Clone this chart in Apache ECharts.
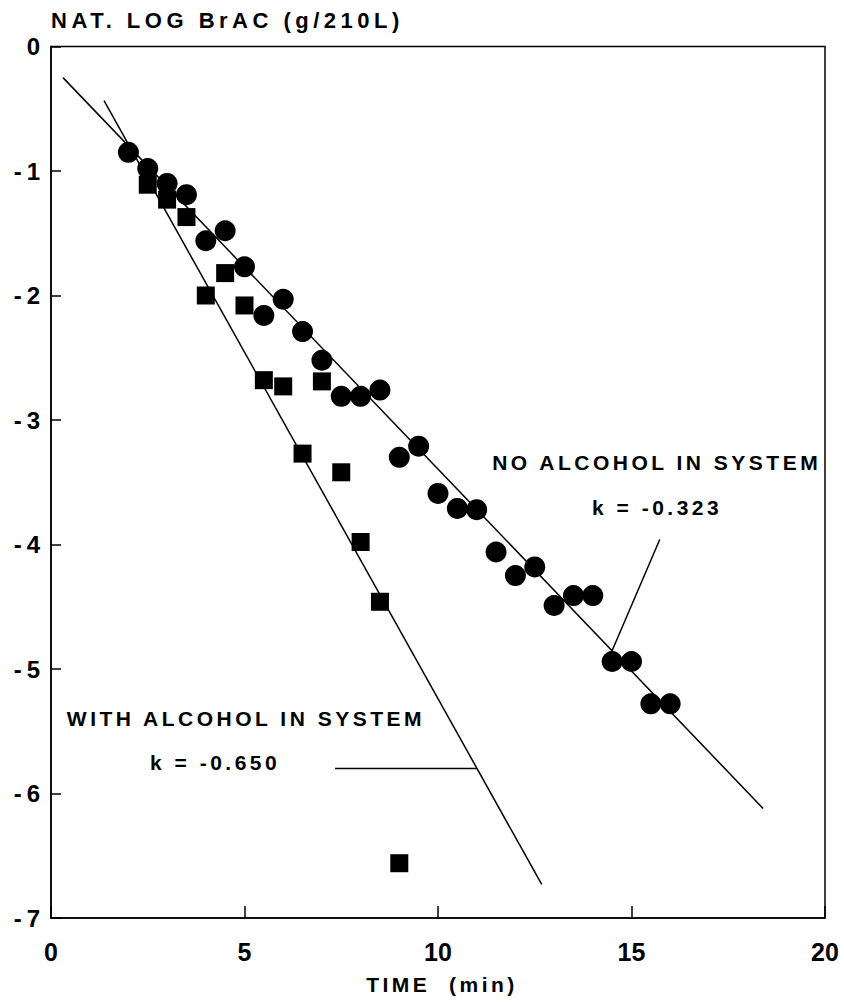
<!DOCTYPE html>
<html>
<head>
<meta charset="utf-8">
<script src="https://cdn.jsdelivr.net/npm/echarts@6/dist/echarts.min.js"></script>
<style>
  html, body { margin: 0; padding: 0; background: #fff; }
  #chart { width: 844px; height: 1005px; }
  /* wide typewriter-style tracking for the captions, keyed on font size */
  #chart text[style*="21px"] { letter-spacing: 3.5px; }
  #chart text[style*="22px"] { letter-spacing: 4.5px; }
  #chart text[style*="24px"] { letter-spacing: 5px; }
</style>
</head>
<body>
<div id="chart"></div>
<script>
// Breath alcohol decay, ln(BrAC) vs time
const noAlcTime = [2, 2.5, 3, 3.5, 4, 4.5, 5, 5.5, 6, 6.5, 7, 7.5, 8, 8.5, 9, 9.5, 10, 10.5, 11, 11.5, 12, 12.5, 13, 13.5, 14, 14.5, 15, 15.5, 16];
const noAlcLn = [-0.85, -0.98, -1.10, -1.19, -1.56, -1.48, -1.77, -2.16, -2.03, -2.29, -2.52, -2.81, -2.81, -2.76, -3.30, -3.21, -3.59, -3.71, -3.72, -4.06, -4.25, -4.18, -4.49, -4.41, -4.41, -4.94, -4.94, -5.28, -5.28];

const withAlcTime = [2.5, 3, 3.5, 4, 4.5, 5, 5.5, 6, 6.5, 7, 7.5, 8, 8.5, 9];
const withAlcLn = [-1.11, -1.23, -1.37, -2.00, -1.82, -2.08, -2.68, -2.73, -3.27, -2.69, -3.42, -3.98, -4.46, -6.56];

// fitted elimination lines (end points)
const noAlcFitTime = [0.31, 18.4];
const noAlcFitLn = [-0.25, -6.12];
const withAlcFitTime = [1.37, 12.68];
const withAlcFitLn = [-0.435, -6.73];

// captions and their leader lines
const noteText = ['NO ALCOHOL IN SYSTEM', 'k = -0.323', 'WITH ALCOHOL IN SYSTEM', 'k = -0.650'];
const noteTime = [11.40, 13.98, 0.41, 2.56];
const noteLn = [-3.345, -3.70, -5.40, -5.755];
const leader323Time = [15.73, 14.49];
const leader323Ln = [-3.96, -4.86];
const leader650Time = [7.34, 11.0];
const leader650Ln = [-5.80, -5.80];

const xTicks = ['0', '5', '10', '15', '20'];
const yTicks = ['-7', '-6', '-5', '-4', '-3', '-2', '-1', '0'];

const pairs = (xs, ys) => xs.map((x, i) => [x, ys[i]]);
const FONT = "'Liberation Sans', Arial, Helvetica, sans-serif";
const INK = '#000';

const lineSeries = (xs, ys) => ({
  type: 'line',
  data: pairs(xs, ys),
  symbol: 'none',
  silent: true,
  lineStyle: { color: INK, width: 1.5 },
  z: 2
});

const chart = echarts.init(document.getElementById('chart'), null, { renderer: 'svg' });

chart.setOption({
  animation: false,
  backgroundColor: '#fff',
  grid: {
    left: 51, right: 19, top: 46.5, bottom: 87,
    show: true, borderColor: INK, borderWidth: 1.5,
    containLabel: false, outerBoundsMode: 'none'
  },
  xAxis: {
    type: 'value', min: 0, max: 20, interval: 5,
    name: 'TIME\u00a0 (min)', nameLocation: 'middle', nameGap: 56,
    nameTextStyle: { fontFamily: FONT, fontSize: 21, fontWeight: 'bold', color: INK, padding: [0, 0, 0, 8] },
    axisLine: { show: true, onZero: false, lineStyle: { color: INK, width: 1.5 } },
    axisTick: { show: true, inside: true, length: 12, lineStyle: { color: INK, width: 1.5 } },
    axisLabel: {
      margin: 21, fontFamily: FONT, fontSize: 25, fontWeight: 'bold', color: INK,
      formatter: (v) => xTicks[Math.round(v / 5)]
    },
    splitLine: { show: false }
  },
  yAxis: {
    type: 'value', min: -7, max: 0, interval: 1,
    name: 'NAT. LOG BrAC (g/210L)', nameLocation: 'end', nameGap: 15,
    nameTextStyle: { fontFamily: FONT, fontSize: 22, fontWeight: 'bold', color: INK, align: 'left' },
    axisLine: { show: true, onZero: false, lineStyle: { color: INK, width: 1.5 } },
    axisTick: { show: true, inside: true, length: 10, lineStyle: { color: INK, width: 1.5 } },
    axisLabel: {
      margin: 6, fontFamily: FONT, fontSize: 24, fontWeight: 'bold', color: INK,
      formatter: (v) => yTicks[Math.round(v + 7)]
    },
    splitLine: { show: false }
  },
  series: [
    lineSeries(noAlcFitTime, noAlcFitLn),
    lineSeries(withAlcFitTime, withAlcFitLn),
    lineSeries(leader323Time, leader323Ln),
    lineSeries(leader650Time, leader650Ln),
    {
      name: 'No alcohol in system',
      type: 'scatter',
      data: pairs(noAlcTime, noAlcLn),
      symbol: 'circle', symbolSize: 21,
      itemStyle: { color: INK, opacity: 1 },
      z: 3
    },
    {
      name: 'With alcohol in system',
      type: 'scatter',
      data: pairs(withAlcTime, withAlcLn),
      symbol: 'rect', symbolSize: 18,
      itemStyle: { color: INK, opacity: 1 },
      z: 3
    },
    {
      type: 'scatter',
      data: pairs(noteTime, noteLn),
      symbol: 'circle', symbolSize: 0,
      silent: true,
      itemStyle: { color: INK, opacity: 1 },
      label: {
        show: true, position: 'right', distance: 0,
        align: 'left', verticalAlign: 'middle',
        fontFamily: FONT, fontSize: 21, fontWeight: 'bold', color: INK,
        textBorderWidth: 0, opacity: 1,
        formatter: (p) => noteText[p.dataIndex]
      },
      z: 4
    }
  ]
});
</script>
</body>
</html>
